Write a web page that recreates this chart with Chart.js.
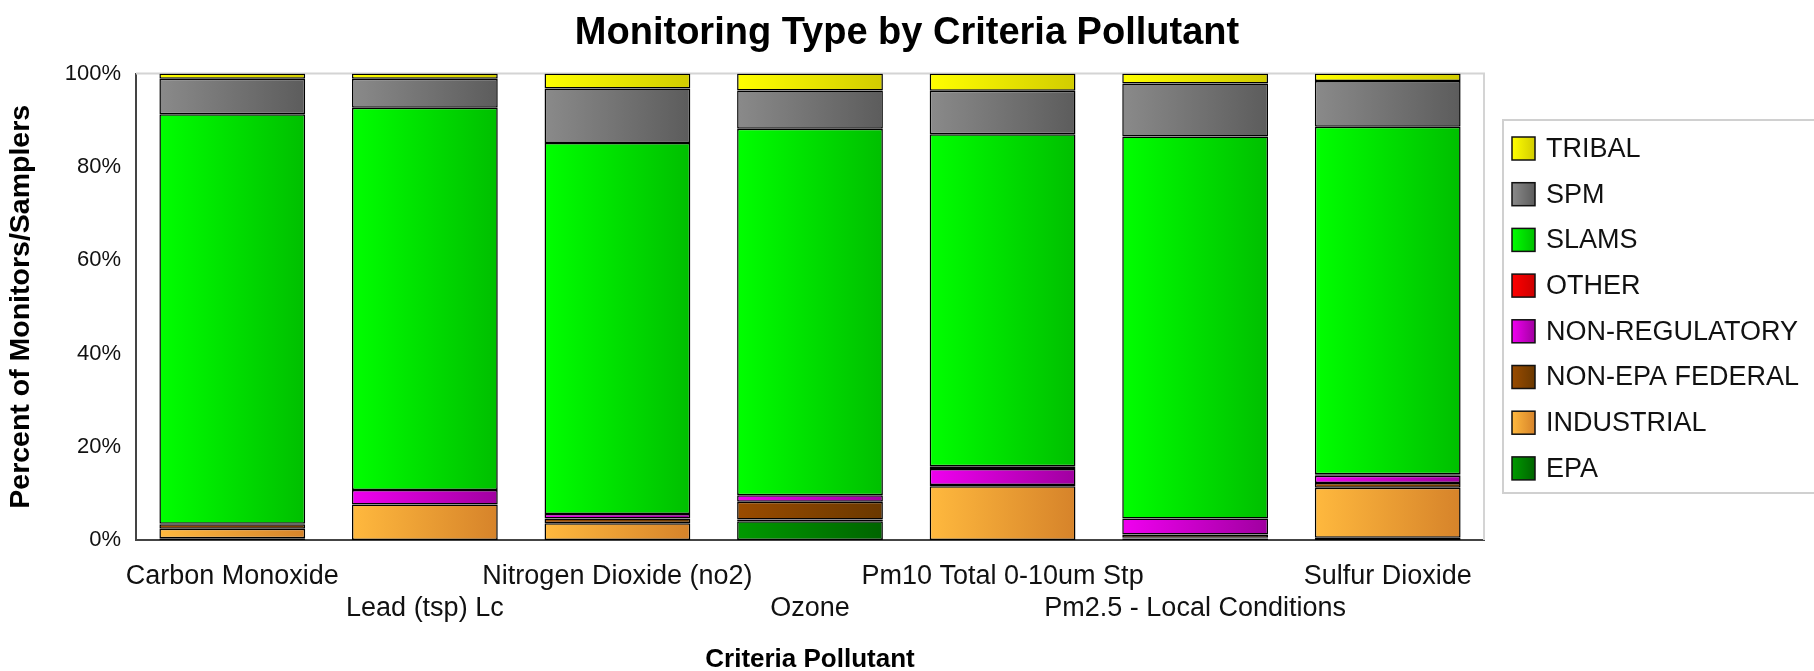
<!DOCTYPE html>
<html>
<head>
<meta charset="utf-8">
<title>Monitoring Type by Criteria Pollutant</title>
<script src="https://cdn.jsdelivr.net/npm/chart.js@4.4.1/dist/chart.umd.min.js"></script>
<style>
  html, body { margin: 0; padding: 0; background: #fff; }
  #wrap { width: 1814px; height: 671px; position: relative; }
</style>
</head>
<body>
<div id="wrap"><canvas id="monitorChart"></canvas></div>
<script>
// categorias (eje x)
const pollutants = ['Carbon Monoxide', 'Lead (tsp) Lc', 'Nitrogen Dioxide (no2)', 'Ozone',
                    'Pm10 Total 0-10um Stp', 'Pm2.5 - Local Conditions', 'Sulfur Dioxide'];

// series en % (de abajo hacia arriba)
const epa        = [0.4, 0.0, 0.0, 4.0, 0.0, 0.3, 0.5];
const industrial = [2.0, 7.6, 3.6, 0.4, 11.5, 0.2, 10.7];
const nonEpaFed  = [1.0, 0.0, 1.0, 3.8, 0.3, 0.7, 1.0];
const nonReg     = [0.1, 3.1, 1.0, 1.4, 3.4, 3.4, 1.6];
const other      = [0.0, 0.0, 0.0, 0.0, 0.6, 0.0, 0.3];
const slams      = [87.8, 82.0, 79.5, 78.6, 71.2, 81.9, 74.5];
const spm        = [7.6, 6.2, 11.7, 8.2, 9.3, 11.4, 9.8];
const tribal     = [1.1, 1.1, 3.2, 3.6, 3.7, 2.1, 1.6];

const yTicks = [0, 20, 40, 60, 80, 100];

const BAR_PCT = 0.757;

// colores degradados izquierda -> derecha
function barGradient(light, dark) {
    return function(context) {
        const chart = context.chart;
        if (!chart.chartArea || context.dataIndex === undefined) return light;
        const xs = chart.scales.x;
        const cx = xs.getPixelForValue(context.dataIndex);
        const half = (xs.width / pollutants.length) * BAR_PCT / 2;
        const g = chart.ctx.createLinearGradient(cx - half, 0, cx + half, 0);
        g.addColorStop(0, light);
        g.addColorStop(1, dark);
        return g;
    };
}

function makeSet(label, data, light, dark) {
    return {
        label: label,
        data: data,
        backgroundColor: barGradient(light, dark),
        legendLight: light,
        legendDark: dark,
        borderColor: '#000',
        borderWidth: 1.5,
        borderSkipped: false,
        categoryPercentage: 1.0,
        barPercentage: BAR_PCT
    };
}

const datasets = [
    makeSet('EPA', epa, '#009a00', '#006400'),
    makeSet('INDUSTRIAL', industrial, '#ffb93e', '#d6832a'),
    makeSet('NON-EPA FEDERAL', nonEpaFed, '#9a4c00', '#6a3800'),
    makeSet('NON-REGULATORY', nonReg, '#f000f0', '#a000a0'),
    makeSet('OTHER', other, '#ff0000', '#cc0000'),
    makeSet('SLAMS', slams, '#00ff00', '#00bf00'),
    makeSet('SPM', spm, '#8a8a8a', '#5c5c5c'),
    makeSet('TRIBAL', tribal, '#ffff00', '#d2cc00')
];

// marco gris claro arriba y a la derecha del area de grafico
const frameLines = {
    id: 'frameLines',
    beforeDatasetsDraw(chart) {
        const a = chart.chartArea;
        const ctx = chart.ctx;
        ctx.save();
        ctx.strokeStyle = '#d4d4d4';
        ctx.lineWidth = 2;
        ctx.beginPath();
        ctx.moveTo(a.left, a.top);
        ctx.lineTo(a.right, a.top);
        ctx.lineTo(a.right, a.bottom);
        ctx.stroke();
        ctx.restore();
    }
};

// leyenda con recuadro (orden invertido, TRIBAL arriba)
const boxLegend = {
    id: 'boxLegend',
    afterDraw(chart) {
        const ctx = chart.ctx;
        const sets = chart.data.datasets.slice().reverse();
        const left = 1503, top = 120, bottom = 493;
        const rowH = 45.7;
        ctx.save();
        ctx.strokeStyle = '#d0d0d0';
        ctx.lineWidth = 2;
        ctx.strokeRect(left, top, 400, bottom - top);
        ctx.font = '27px "Liberation Sans", Arial, sans-serif';
        ctx.textBaseline = 'middle';
        ctx.textAlign = 'left';
        sets.forEach(function(ds, i) {
            const cy = 148.5 + i * rowH;
            const sx = 1512, sz = 23;
            const g = ctx.createLinearGradient(sx, 0, sx + sz, 0);
            g.addColorStop(0, ds.legendLight);
            g.addColorStop(1, ds.legendDark);
            ctx.fillStyle = g;
            ctx.fillRect(sx, cy - sz / 2, sz, sz);
            ctx.strokeStyle = '#111';
            ctx.lineWidth = 1.5;
            ctx.strokeRect(sx, cy - sz / 2, sz, sz);
            ctx.fillStyle = '#111';
            ctx.fillText(ds.label, 1546, cy + 1);
        });
        ctx.restore();
    }
};

const ctx = document.getElementById('monitorChart');
const chart = new Chart(ctx, {
    type: 'bar',
    data: { labels: pollutants, datasets: datasets },
    plugins: [frameLines, boxLegend],
    options: {
        responsive: true,
        maintainAspectRatio: false,
        animation: false,
        layout: { padding: 0 },
        plugins: {
            legend: { display: false },
            tooltip: { enabled: false },
            title: {
                display: true,
                text: 'Monitoring Type by Criteria Pollutant',
                color: '#000',
                font: { family: '"Liberation Sans", Arial, sans-serif', size: 38, weight: 'bold', lineHeight: 1.2 },
                padding: { top: 11, bottom: 17 }
            }
        },
        scales: {
            x: {
                stacked: true,
                grid: { display: false, drawTicks: false },
                border: { display: true, color: '#444', width: 2 },
                afterFit: function(scale) { scale.height = 131; },
                ticks: {
                    autoSkip: false,
                    maxRotation: 0,
                    minRotation: 0,
                    padding: 20,
                    color: '#111',
                    font: { family: '"Liberation Sans", Arial, sans-serif', size: 27, lineHeight: 1.2 },
                    callback: function(value, index) {
                        const l = this.getLabelForValue(value);
                        return index % 2 ? ['', l] : l;
                    }
                },
                title: {
                    display: true,
                    text: 'Criteria Pollutant',
                    color: '#000',
                    font: { family: '"Liberation Sans", Arial, sans-serif', size: 26, weight: 'bold', lineHeight: 0.85 },
                    padding: { top: 0, bottom: 0 }
                }
            },
            y: {
                stacked: true,
                min: 0,
                max: 100,
                afterFit: function(scale) { scale.width = 136; },
                afterBuildTicks: function(scale) {
                    scale.ticks = yTicks.map(function(v) { return { value: v }; });
                },
                grid: { display: false, drawTicks: false },
                border: { display: true, color: '#444', width: 2 },
                ticks: {
                    padding: 15,
                    color: '#111',
                    font: { family: '"Liberation Sans", Arial, sans-serif', size: 22 },
                    callback: function(v) { return v + '%'; }
                },
                title: {
                    display: true,
                    text: 'Percent of Monitors/Samplers',
                    color: '#000',
                    font: { family: '"Liberation Sans", Arial, sans-serif', size: 28.5, weight: 'bold', lineHeight: 1.2 },
                    padding: { top: 4, bottom: 0 }
                }
            },
            // espacio reservado para la leyenda a la derecha
            legendSpace: {
                type: 'linear',
                position: 'right',
                display: true,
                grid: { display: false, drawTicks: false },
                border: { display: false },
                ticks: { display: false },
                afterFit: function(scale) { scale.width = 330; }
            }
        }
    }
});
</script>
</body>
</html>
